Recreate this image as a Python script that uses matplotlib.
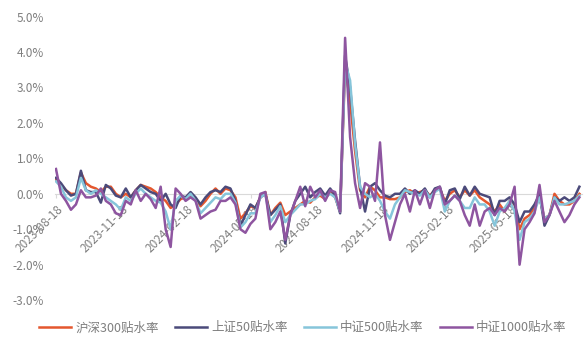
import matplotlib
matplotlib.use("Agg")
import matplotlib.pyplot as plt
import matplotlib.ticker as mticker
import numpy as np
import pandas as pd

plt.rcParams['font.family'] = ['Noto Sans CJK SC', 'DejaVu Sans']
plt.rcParams['axes.unicode_minus'] = False

dates = pd.date_range("2023-08-18", periods=106, freq="7D")

hs300 = [0.4, 0.25, 0.1, 0.0, 0.0, 0.6, 0.3, 0.2, 0.15, 0.05,
         0.2, 0.2, 0.0, -0.1, 0.0, -0.1, 0.1, 0.25, 0.2, 0.15,
         0.05, -0.1, -0.2, -0.4, -0.3, -0.15, -0.1, -0.05, -0.15, -0.35,
         -0.2, 0.0, 0.15, 0.0, 0.15, 0.1, -0.1, -0.7, -0.55, -0.35,
         -0.4, -0.1, 0.05, -0.6, -0.4, -0.25, -0.6, -0.5, -0.4, -0.3,
         -0.2, -0.25, -0.1, -0.05, -0.15, 0.05, -0.1, -0.5, 3.6, 2.6,
         1.2, 0.1, -0.1, 0.2, 0.1, -0.1, -0.1, -0.15, -0.15, -0.1,
         0.05, 0.1, 0.0, 0.05, 0.1, -0.05, 0.1, 0.15, -0.2, 0.0,
         0.1, -0.1, 0.1, -0.05, 0.1, -0.1, -0.2, -0.3, -0.5, -0.3,
         -0.5, -0.2, -0.3, -1.0, -0.7, -0.6, -0.4, -0.1, -0.7, -0.6,
         0.0, -0.2, -0.3, -0.3, -0.2, 0.0]

sz50 = [0.45, 0.3, 0.1, -0.05, 0.0, 0.65, 0.1, 0.05, 0.05, -0.25,
        0.25, 0.15, -0.05, -0.1, 0.15, -0.1, 0.1, 0.25, 0.15, 0.05,
        0.0, -0.2, 0.0, -0.3, -0.4, -0.05, -0.1, 0.05, -0.1, -0.3,
        -0.1, 0.05, 0.1, 0.05, 0.2, 0.15, -0.2, -0.9, -0.6, -0.3,
        -0.4, -0.1, 0.0, -0.6, -0.45, -0.3, -1.4, -0.6, -0.2, 0.0,
        0.2, -0.1, 0.05, 0.15, -0.05, 0.15, -0.05, -0.55, 3.9, 3.0,
        1.5, 0.2, -0.5, 0.2, 0.3, 0.1, -0.05, -0.1, 0.0, 0.0,
        0.15, 0.0, 0.1, 0.0, 0.15, -0.1, 0.15, 0.2, -0.3, 0.1,
        0.15, -0.15, 0.2, -0.05, 0.2, 0.0, -0.05, -0.1, -0.6, -0.2,
        -0.2, -0.1, -0.3, -0.8, -0.5, -0.5, -0.3, 0.0, -0.9, -0.6,
        -0.1, -0.2, -0.1, -0.2, -0.1, 0.2]

zz500 = [0.35, 0.2, -0.1, -0.2, -0.1, 0.45, 0.1, 0.0, 0.1, 0.0,
         -0.1, -0.2, -0.3, -0.45, -0.1, -0.2, 0.0, 0.15, 0.0, -0.1,
         -0.2, -0.25, -0.5, -1.0, -0.2, -0.05, -0.15, 0.0, -0.2, -0.55,
         -0.4, -0.25, -0.1, -0.15, 0.0, 0.0, -0.25, -0.95, -0.8, -0.55,
         -0.55, -0.1, 0.0, -0.8, -0.6, -0.35, -0.8, -0.6, -0.45, -0.3,
         -0.3, -0.2, -0.15, 0.0, -0.1, 0.0, -0.1, -0.5, 3.7, 3.2,
         1.4, 0.2, 0.0, -0.1, 0.0, -0.2, -0.5, -0.7, -0.3, -0.1,
         0.1, 0.05, 0.0, -0.05, 0.1, -0.1, 0.05, 0.15, -0.5, -0.2,
         -0.05, -0.2, -0.4, -0.4, -0.1, -0.3, -0.3, -0.5, -0.9, -0.5,
         -0.4, -0.2, -0.5, -1.3, -0.8, -0.7, -0.5, -0.1, -0.7, -0.6,
         -0.1, -0.3, -0.3, -0.25, -0.2, -0.05]

zz1000 = [0.7, 0.0, -0.2, -0.45, -0.3, 0.1, -0.1, -0.1, -0.05, 0.15,
          -0.2, -0.3, -0.55, -0.6, -0.2, -0.3, 0.1, -0.2, 0.0, -0.15,
          -0.4, 0.2, -1.0, -1.5, 0.15, 0.0, -0.2, -0.1, -0.2, -0.7,
          -0.6, -0.5, -0.45, -0.2, -0.2, -0.1, -0.3, -1.0, -1.1, -0.85,
          -0.7, 0.0, 0.05, -1.0, -0.8, -0.5, -1.3, -0.6, -0.2, 0.2,
          -0.35, 0.2, -0.1, 0.1, -0.2, 0.1, 0.05, -0.5, 4.4, 1.6,
          0.3, -0.4, 0.3, 0.2, -0.2, 1.45, -0.6, -1.3, -0.8, -0.3,
          0.0, -0.5, 0.1, -0.3, 0.1, -0.4, 0.1, 0.2, -0.3, -0.2,
          -0.05, -0.2, -0.6, -0.9, -0.3, -0.9, -0.5, -0.4, -0.6, -0.4,
          -0.5, -0.3, 0.2, -2.0, -1.0, -0.8, -0.55, 0.25, -0.8, -0.6,
          -0.2, -0.5, -0.8, -0.6, -0.3, -0.1]

series = [
    ("沪深300贴水率", hs300, "#E4572E"),
    ("上证50贴水率", sz50, "#4B4A7A"),
    ("中证500贴水率", zz500, "#86C5DA"),
    ("中证1000贴水率", zz1000, "#8E55A0"),
]

tick_dates = pd.to_datetime(["2023-08-18", "2023-11-18", "2024-02-18", "2024-05-18",
                             "2024-08-18", "2024-11-18", "2025-02-18", "2025-05-18"])

fig = plt.figure(figsize=(5.88, 3.45), dpi=100)
ax = fig.add_axes([0.094, 0.13, 0.895, 0.822])

for name, vals, color in series:
    ax.plot(dates, np.array(vals) / 100, color=color, lw=1.8, label=name)

ax.set_ylim(-0.03, 0.05)
ax.set_xlim(dates[0] - pd.Timedelta(days=1), dates[-1] + pd.Timedelta(days=3))
ax.yaxis.set_major_locator(mticker.MultipleLocator(0.01))
ax.yaxis.set_major_formatter(mticker.FuncFormatter(lambda v, p: f"{v*100:.1f}%"))

for s in ["top", "right", "left"]:
    ax.spines[s].set_visible(False)
ax.spines["bottom"].set_position(("data", 0))
ax.spines["bottom"].set_color("#D9D9D9")
ax.spines["bottom"].set_zorder(0)

ax.set_xticks(tick_dates)
ax.set_xticklabels([d.strftime("%Y-%m-%d") for d in tick_dates],
                   rotation=45, ha="right", rotation_mode="anchor")
ax.tick_params(axis="x", colors="#D9D9D9", labelcolor="#7F7F7F", labelsize=8.5, length=3)
ax.tick_params(axis="y", length=0, labelcolor="#7F7F7F", labelsize=8.5, pad=8)

fig.legend(loc="center", bbox_to_anchor=(0.515, 0.05), ncol=4, frameon=False,
           fontsize=9, handlelength=2.6, handletextpad=0.3, columnspacing=1.3,
           labelcolor="#7F7F7F")

fig.savefig("out.png", dpi=100)
